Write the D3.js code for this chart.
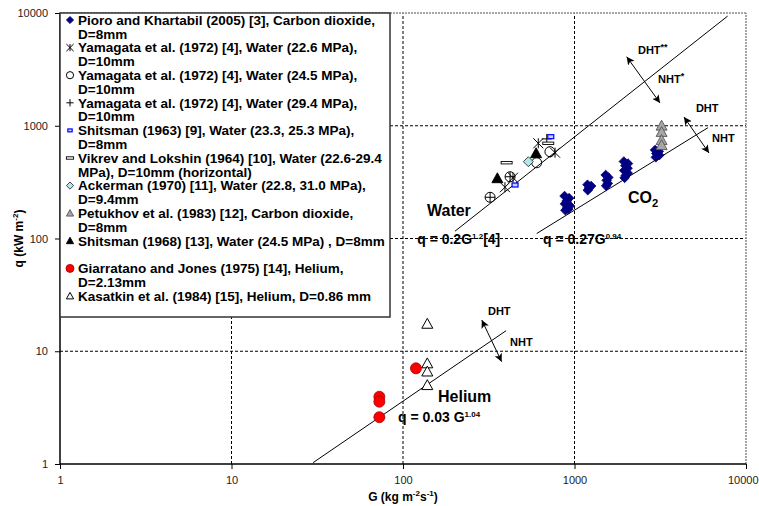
<!DOCTYPE html>
<html><head><meta charset="utf-8">
<script src="https://cdn.jsdelivr.net/npm/d3@7"></script>
<style>body{margin:0;background:#fff}svg{display:block;font-family:"Liberation Sans",Arial,sans-serif}</style>
</head><body><svg id="c" width="759" height="506"></svg>
<script>
// ---------- data ----------
const xTicks = [1, 10, 100, 1000, 10000];
const yTicks = [1, 10, 100, 1000, 10000];

// Pioro and Khartabil (2005), CO2  [G, q]
const pioroCO2 = [
  [875,238],[930,228],[900,215],[880,203],[940,195],[905,186],[885,178],[920,182],
  [1190,300],[1250,292],[1215,280],[1195,268],
  [1520,366],[1575,348],[1540,328],[1565,308],[1530,293],
  [1940,482],[2050,462],[1980,442],[2040,420],[1950,400],[2045,380],[1990,362],[1960,345],
  [2950,610],[3100,592],[3000,568],[3120,548],[2980,525]
];
const yamagata226 = [[393,285],[438,346],[615,699],[770,577]];
const yamagata245 = [[322,232],[421,353],[602,470],[719,589]];
const yamagata294 = [[322,232],[421,353],[689,764]];
const shitsman1963 = [[450,298],[727,800]];
const vikrev = [[402,470],[703,699]];
const ackerman = [[538,480]];
const petukhovCO2 = [[3220,1000],[3220,880],[3220,745],[3220,672]];
const shitsman1968 = [[355,342],[597,570]];
const giarratanoHe = [[72.8,3.95],[72.8,3.57],[72.8,2.6],[119,7.06]];
const kasatkinHe = [[138.6,17.5],[138.6,7.8],[138.6,6.6],[138.6,5.0]];

// correlations q = a G^b, drawn over [Gmin, Gmax]
const correlations = [
  {a:0.2,  b:1.2,  g0:201, g1:7820},
  {a:0.27, b:0.94, g0:602, g1:6000},
  {a:0.03, b:1.04, g0:29.9, g1:399}
];

const legendLabels = [
  ["Pioro and Khartabil (2005) [3], Carbon dioxide,", "D=8mm"],
  ["Yamagata et al. (1972) [4], Water (22.6 MPa),", "D=10mm"],
  ["Yamagata et al. (1972) [4], Water (24.5 MPa),", "D=10mm"],
  ["Yamagata et al. (1972) [4], Water (29.4 MPa),", "D=10mm"],
  ["Shitsman (1963) [9], Water (23.3, 25.3 MPa),", "D=8mm"],
  ["Vikrev and Lokshin (1964) [10], Water (22.6-29.4", "MPa), D=10mm (horizontal)"],
  ["Ackerman (1970) [11], Water (22.8, 31.0 MPa),", "D=9.4mm"],
  ["Petukhov et al. (1983) [12], Carbon dioxide,", "D=8mm"],
  ["Shitsman (1968) [13], Water (24.5 MPa) , D=8mm", ""],
  ["Giarratano and Jones (1975) [14], Helium,", "D=2.13mm"],
  ["Kasatkin et al. (1984) [15], Helium, D=0.86 mm"]
];

// ---------- setup ----------
const svg = d3.select("#c");
const x = d3.scaleLog().domain([1, 10000]).range([60, 746]);
const y = d3.scaleLog().domain([1, 10000]).range([464, 13]);

// grid
const grid = svg.append("g");
[10,100,1000].forEach(v => {
  grid.append("line").attr("x1", x(1)).attr("x2", x(10000)).attr("y1", y(v)).attr("y2", y(v))
    .attr("stroke", "#000").attr("stroke-width", 1).attr("stroke-dasharray", "3,2");
  grid.append("line").attr("y1", y(1)).attr("y2", y(10000)).attr("x1", x(v)).attr("x2", x(v))
    .attr("stroke", "#000").attr("stroke-width", 1).attr("stroke-dasharray", "3,2");
});
grid.append("line").attr("x1", x(1)).attr("x2", x(10000)).attr("y1", y(10000)).attr("y2", y(10000))
  .attr("stroke", "#888").attr("stroke-width", 1.5).attr("stroke-dasharray", "2,1");
grid.append("line").attr("y1", y(1)).attr("y2", y(10000)).attr("x1", x(10000)).attr("x2", x(10000))
  .attr("stroke", "#888").attr("stroke-width", 1.5).attr("stroke-dasharray", "2,1");

// axes
const yAxis = svg.append("g").attr("transform", `translate(${x(1)},0)`)
  .call(d3.axisLeft(y).tickValues(yTicks).tickFormat(d3.format("d")).tickSize(5).tickPadding(7));
const xAxis = svg.append("g").attr("transform", `translate(0,${y(1)})`)
  .call(d3.axisBottom(x).tickValues(xTicks).tickFormat(d3.format("d")).tickSize(5).tickPadding(7));
[xAxis, yAxis].forEach(a => {
  a.select(".domain").attr("stroke", "#000").attr("stroke-width", 1.5);
  a.selectAll(".tick line").attr("stroke", "#000");
  a.selectAll("text").attr("font-size", 11).attr("fill", "#222")
    .attr("font-family", '"Liberation Sans",Arial,sans-serif');
});
xAxis.selectAll(".tick").filter(d => d === 10000).select("text")
  .attr("text-anchor", "end").attr("x", 12);
yAxis.selectAll(".domain").attr("d", `M0,${y(1)}V${y(10000)}`);
xAxis.selectAll(".domain").attr("d", `M${x(1)},0H${x(10000)}`);

// axis titles
const xt = svg.append("text").attr("x", x(100)).attr("y", 501).attr("text-anchor", "middle")
  .attr("font-weight", "bold").attr("font-size", 12);
xt.append("tspan").text("G (kg m");
xt.append("tspan").attr("font-size", 8).attr("dy", -5).text("-2");
xt.append("tspan").attr("dy", 5).text("s");
xt.append("tspan").attr("font-size", 8).attr("dy", -5).text("-1");
xt.append("tspan").attr("dy", 5).text(")");

const yt = svg.append("text").attr("transform", `translate(23,${y(100)}) rotate(-90)`)
  .attr("text-anchor", "middle").attr("font-weight", "bold").attr("font-size", 12);
yt.append("tspan").text("q (kW m");
yt.append("tspan").attr("font-size", 8).attr("dy", -5).text("-2");
yt.append("tspan").attr("dy", 5).text(")");

// correlation lines
correlations.forEach(c => {
  svg.append("line")
    .attr("x1", x(c.g0)).attr("y1", y(c.a * Math.pow(c.g0, c.b)))
    .attr("x2", x(c.g1)).attr("y2", y(c.a * Math.pow(c.g1, c.b)))
    .attr("stroke", "#000").attr("stroke-width", 1);
});

// arrows
const defs = svg.append("defs");
defs.append("marker").attr("id", "ah").attr("markerUnits", "userSpaceOnUse")
  .attr("markerWidth", 9).attr("markerHeight", 8).attr("refX", 8).attr("refY", 4)
  .attr("orient", "auto-start-reverse")
  .append("path").attr("d", "M0,0 L8,4 L0,8 L2,4 Z").attr("fill", "#000");
const arrows = [
  [[2015,4095],[3153,1592]],
  [[4348,1196],[6086,573]],
  [[288,18.9],[376,8.08]]
];
arrows.forEach(a => {
  svg.append("line").attr("x1", x(a[0][0])).attr("y1", y(a[0][1]))
    .attr("x2", x(a[1][0])).attr("y2", y(a[1][1]))
    .attr("stroke", "#000").attr("stroke-width", 1)
    .attr("marker-start", "url(#ah)").attr("marker-end", "url(#ah)");
});

// ---------- markers ----------
function drawMarker(g, type, cx, cy, k) {
  const s = k;
  const t = g.append("g").attr("transform", `translate(${cx},${cy})`);
  switch (type) {
    case "navyDiamond":
      t.append("path").attr("d", `M0,${-s}L${s},0L0,${s}L${-s},0Z`).attr("fill", "#000080").attr("stroke", "#000080").attr("stroke-width", 0.8); break;
    case "star":
      t.append("path").attr("d", `M${-s},${-s}L${s},${s}M${-s},${s}L${s},${-s}M0,${-s}L0,${s}`).attr("stroke", "#000").attr("stroke-width", 1).attr("fill", "none"); break;
    case "circle":
      t.append("circle").attr("r", s).attr("fill", "none").attr("stroke", "#000").attr("stroke-width", 1); break;
    case "plus":
      t.append("path").attr("d", `M${-s},0L${s},0M0,${-s}L0,${s}`).attr("stroke", "#000").attr("stroke-width", 1); break;
    case "blueRect":
      t.append("rect").attr("x", -s * 0.6).attr("y", -s * 0.4).attr("width", s * 1.2).attr("height", s * 0.8)
        .attr("fill", "#c8d0ff").attr("stroke", "#0000ff").attr("stroke-width", 1.2); break;
    case "dash":
      t.append("rect").attr("x", -s).attr("y", -1.2).attr("width", 2 * s).attr("height", 2.4)
        .attr("fill", "#fff").attr("stroke", "#000").attr("stroke-width", 0.9); break;
    case "cyanDiamond":
      t.append("path").attr("d", `M0,${-s}L${s},0L0,${s}L${-s},0Z`).attr("fill", "#aee8ec").attr("stroke", "#333").attr("stroke-width", 0.9); break;
    case "grayTri":
      t.append("path").attr("d", `M0,${-s}L${s},${s * 0.8}L${-s},${s * 0.8}Z`).attr("fill", "#a6a6a6").attr("stroke", "#555").attr("stroke-width", 0.9); break;
    case "blackTri":
      t.append("path").attr("d", `M0,${-s}L${s},${s * 0.8}L${-s},${s * 0.8}Z`).attr("fill", "#000").attr("stroke", "#000").attr("stroke-width", 0.9); break;
    case "redCircle":
      t.append("circle").attr("r", s).attr("fill", "#ff0000").attr("stroke", "#a00000").attr("stroke-width", 0.8); break;
    case "openTri":
      t.append("path").attr("d", `M0,${-s}L${s},${s * 0.8}L${-s},${s * 0.8}Z`).attr("fill", "#fff").attr("stroke", "#000").attr("stroke-width", 1); break;
  }
}

const seriesList = [
  {data: pioroCO2, type: "navyDiamond", size: 4.8},
  {data: yamagata226, type: "star", size: 5},
  {data: yamagata245, type: "circle", size: 5},
  {data: yamagata294, type: "plus", size: 5},
  {data: shitsman1963, type: "blueRect", size: 5},
  {data: vikrev, type: "dash", size: 5.5},
  {data: ackerman, type: "cyanDiamond", size: 5},
  {data: petukhovCO2, type: "grayTri", size: 5.5},
  {data: shitsman1968, type: "blackTri", size: 5.5},
  {data: giarratanoHe, type: "redCircle", size: 5.5},
  {data: kasatkinHe, type: "openTri", size: 5.5}
];
const pts = svg.append("g");
seriesList.forEach(s => s.data.forEach(d => drawMarker(pts, s.type, x(d[0]), y(d[1]), s.size)));

// ---------- annotations ----------
function label(gv, qv, size, parts, anchor) {
  const t = svg.append("text").attr("x", x(gv)).attr("y", y(qv)).attr("font-weight", "bold")
    .attr("font-size", size).attr("text-anchor", anchor || "start");
  let shift = 0;
  parts.forEach(p => {
    const sp = t.append("tspan").text(p.t);
    let want = 0;
    if (p.sup) { sp.attr("font-size", p.fs || size * 0.55); want = -size * 0.38; }
    if (p.sub) { sp.attr("font-size", p.fs || size * 0.7); want = size * 0.25; }
    sp.attr("dy", want - shift); shift = want;
  });
  return t;
}
label(138, 158, 16, [{t: "Water"}]);
label(2051, 206, 16, [{t: "CO"}, {t: "2", sub: true}]);
label(160, 3.55, 16, [{t: "Helium"}]);
label(121, 89.4, 14, [{t: "q = 0.2G"}, {t: "1.2", sup: true, fs: 8}, {t: "[4]"}]);
label(655, 89.4, 14, [{t: "q = 0.27G"}, {t: "0.94", sup: true, fs: 8}]);
label(93.5, 2.36, 14, [{t: "q = 0.03 G"}, {t: "1.04", sup: true, fs: 8}]);
label(2345, 4327, 11, [{t: "DHT"}, {t: "**", sup: true, fs: 9}]);
label(3069, 2393, 11, [{t: "NHT"}, {t: "*", sup: true, fs: 9}]);
label(5106, 1324, 11, [{t: "DHT"}]);
label(6339, 718, 11, [{t: "NHT"}]);
label(313, 20.8, 11, [{t: "DHT"}]);
label(421, 11.2, 11, [{t: "NHT"}]);

// ---------- legend ----------
const lg = svg.append("g");
lg.append("rect").attr("x", x(1)).attr("y", y(10000)).attr("width", 330).attr("height", 304)
  .attr("fill", "#fff").attr("stroke", "#333").attr("stroke-width", 1.5);
const lineH = 13.8;
let row = 0;
legendLabels.forEach((lab, i) => {
  const cy = 20 + row * lineH;
  drawMarker(lg, seriesList[i].type, 70, cy, seriesList[i].type === "redCircle" ? 4 : 3.6);
  lab.forEach((ln, j) => {
    lg.append("text").attr("x", 78).attr("y", cy + j * lineH + 4.7)
      .attr("font-size", 13.5).attr("font-weight", "bold").text(ln);
  });
  row += 2;
});
</script></body></html>
